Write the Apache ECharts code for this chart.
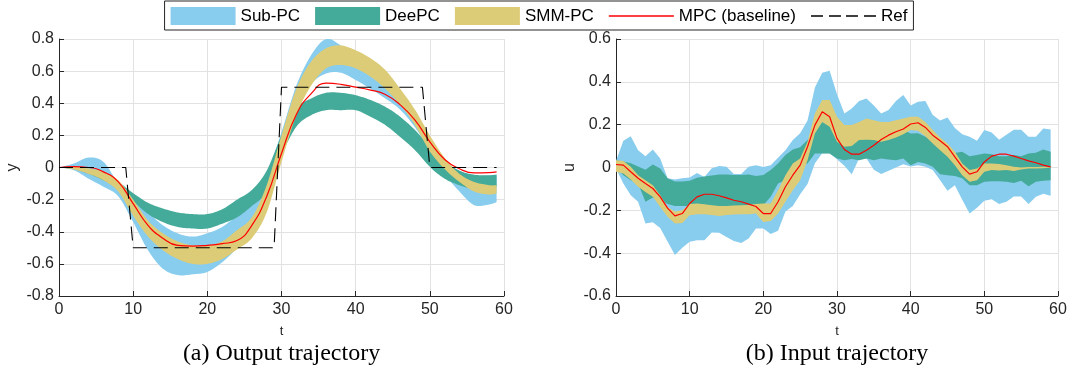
<!DOCTYPE html>
<html>
<head>
<meta charset="utf-8">
<script src="https://cdn.jsdelivr.net/npm/echarts@6/dist/echarts.min.js"></script>
<style>
html,body{margin:0;padding:0;background:#fff;}
#chart{width:1078px;height:378px;}
</style>
</head>
<body>
<div id="chart"></div>
<script>
// ---------- Left plot: output trajectory (y) ----------
const tLeft = [0,2,4,6,8,10,12,14,16,18,20,22,24,26,28,30,32,34,36,38,40,42,44,46,48,50,52,54,56,58,59];
const subUpL = [0,0.025,0.062,0.035,-0.10,-0.20,-0.28,-0.36,-0.41,-0.43,-0.41,-0.37,-0.30,-0.22,-0.05,0.22,0.51,0.70,0.80,0.76,0.69,0.62,0.54,0.44,0.32,0.17,0.04,-0.02,-0.05,-0.05,-0.05];
const subLoL = [0,-0.017,-0.07,-0.12,-0.18,-0.34,-0.515,-0.63,-0.67,-0.665,-0.65,-0.59,-0.50,-0.38,-0.21,0.077,0.37,0.52,0.585,0.59,0.545,0.49,0.43,0.36,0.25,0.108,-0.04,-0.15,-0.235,-0.23,-0.215];
const deeUpL = [0,0.0,-0.02,-0.05,-0.09,-0.16,-0.22,-0.255,-0.28,-0.29,-0.29,-0.26,-0.20,-0.14,-0.02,0.20,0.37,0.43,0.465,0.465,0.45,0.42,0.378,0.316,0.233,0.13,0.04,-0.02,-0.045,-0.048,-0.044];
const deeLoL = [0,-0.01,-0.04,-0.08,-0.13,-0.21,-0.29,-0.34,-0.37,-0.38,-0.38,-0.35,-0.31,-0.24,-0.15,0.077,0.254,0.326,0.357,0.357,0.357,0.316,0.264,0.19,0.108,0.004,-0.07,-0.11,-0.135,-0.13,-0.12];
const smmUpL = [0,0.004,-0.006,-0.027,-0.08,-0.20,-0.33,-0.41,-0.46,-0.485,-0.485,-0.46,-0.39,-0.31,-0.11,0.20,0.49,0.66,0.742,0.76,0.73,0.68,0.607,0.49,0.36,0.20,0.06,-0.04,-0.09,-0.11,-0.11];
const smmLoL = [0,-0.012,-0.04,-0.08,-0.15,-0.30,-0.43,-0.515,-0.57,-0.60,-0.60,-0.57,-0.51,-0.44,-0.28,0.035,0.326,0.51,0.617,0.638,0.617,0.565,0.49,0.39,0.264,0.10,-0.01,-0.09,-0.15,-0.168,-0.162];
const mpcL = [0,0.005,0.0,-0.027,-0.09,-0.225,-0.36,-0.44,-0.485,-0.49,-0.485,-0.474,-0.455,-0.36,-0.18,0.087,0.33,0.46,0.525,0.518,0.50,0.482,0.455,0.39,0.295,0.16,0.05,-0.008,-0.034,-0.032,-0.027];
const refT = [0,9,10,29,30,49,50,59];
const refV = [0,0,-0.5,-0.5,0.5,0.5,0,0];

// ---------- Right plot: input trajectory (u) ----------
const tRight = [0,1,2,3,4,5,6,7,8,9,10,11,12,13,14,15,16,17,18,19,20,21,22,23,24,25,26,27,28,29,30,31,32,33,34,35,36,37,38,39,40,41,42,43,44,45,46,47,48,49,50,51,52,53,54,55,56,57,58,59];
const subUpR = [0.03,0.125,0.146,0.08,0.052,0.084,0.042,-0.05,-0.056,-0.05,-0.047,-0.026,-0.044,-0.003,0.007,0.003,-0.03,-0.03,0.003,0.01,0.002,0.01,0.045,0.08,0.128,0.16,0.22,0.373,0.442,0.452,0.342,0.252,0.276,0.31,0.322,0.29,0.252,0.268,0.311,0.338,0.29,0.307,0.311,0.245,0.22,0.233,0.185,0.155,0.143,0.125,0.175,0.163,0.13,0.153,0.176,0.176,0.143,0.143,0.182,0.178];
const subLoR = [-0.005,-0.075,-0.13,-0.16,-0.262,-0.256,-0.283,-0.345,-0.408,-0.375,-0.347,-0.34,-0.34,-0.303,-0.305,-0.324,-0.343,-0.353,-0.332,-0.285,-0.285,-0.31,-0.295,-0.205,-0.18,-0.125,-0.077,0.02,0.066,0.066,0.038,0.008,-0.032,0.042,0.042,-0.01,-0.03,-0.015,0.0,0.015,0.005,0.01,0.003,-0.012,-0.06,-0.108,-0.083,-0.15,-0.215,-0.188,-0.155,-0.148,-0.171,-0.16,-0.135,-0.135,-0.17,-0.137,-0.122,-0.132];
const deeUpR = [0.034,0.028,0.02,0.005,-0.01,0.014,-0.005,-0.05,-0.065,-0.065,-0.062,-0.048,-0.042,-0.037,-0.033,-0.033,-0.035,-0.035,-0.033,-0.04,-0.035,-0.012,0.019,0.058,0.084,0.094,0.128,0.175,0.213,0.198,0.175,0.151,0.159,0.175,0.178,0.176,0.167,0.167,0.172,0.175,0.159,0.16,0.143,0.128,0.109,0.097,0.068,0.073,0.053,0.058,0.065,0.062,0.053,0.053,0.058,0.053,0.065,0.069,0.084,0.073];
const deeLoR = [0.0,-0.036,-0.06,-0.075,-0.16,-0.14,-0.15,-0.17,-0.18,-0.18,-0.18,-0.18,-0.18,-0.18,-0.18,-0.18,-0.18,-0.18,-0.18,-0.184,-0.176,-0.137,-0.075,-0.06,-0.028,0.011,0.019,0.065,0.065,0.065,0.042,0.034,0.04,0.034,0.042,0.034,0.042,0.037,0.034,0.042,0.011,0.026,0.019,0.003,-0.031,-0.036,-0.04,-0.05,-0.083,-0.083,-0.067,-0.064,-0.064,-0.067,-0.072,-0.062,-0.087,-0.067,-0.062,-0.059];
const smmUpR = [0.034,0.03,0.003,-0.036,-0.06,-0.083,-0.13,-0.184,-0.205,-0.2,-0.17,-0.168,-0.172,-0.176,-0.18,-0.18,-0.178,-0.176,-0.175,-0.171,-0.168,-0.168,-0.106,-0.036,0.019,0.042,0.12,0.252,0.315,0.315,0.237,0.198,0.198,0.213,0.229,0.221,0.213,0.213,0.221,0.229,0.237,0.237,0.213,0.175,0.14,0.112,0.073,0.019,-0.012,-0.005,0.019,0.019,0.016,0.011,0.003,0.0,0.002,0.002,0.003,0.003];
const smmLoR = [-0.02,-0.028,-0.056,-0.09,-0.114,-0.137,-0.184,-0.23,-0.262,-0.259,-0.223,-0.218,-0.218,-0.222,-0.226,-0.222,-0.22,-0.218,-0.218,-0.215,-0.254,-0.25,-0.215,-0.16,-0.106,-0.06,0.034,0.159,0.213,0.19,0.12,0.097,0.1,0.128,0.13,0.128,0.12,0.128,0.14,0.155,0.175,0.172,0.146,0.112,0.081,0.05,0.011,-0.036,-0.067,-0.059,-0.02,-0.012,-0.014,-0.012,-0.016,-0.009,-0.005,-0.005,-0.003,0.0];
const mpcR = [0.014,0.011,-0.02,-0.05,-0.075,-0.098,-0.137,-0.19,-0.226,-0.215,-0.168,-0.137,-0.125,-0.125,-0.132,-0.142,-0.153,-0.16,-0.171,-0.182,-0.215,-0.215,-0.16,-0.09,-0.036,0.011,0.097,0.198,0.26,0.237,0.136,0.084,0.062,0.062,0.081,0.104,0.131,0.151,0.167,0.18,0.203,0.209,0.187,0.151,0.125,0.097,0.05,0.003,-0.031,-0.02,0.026,0.053,0.062,0.062,0.053,0.042,0.031,0.022,0.011,0.003];

// ---------- labels ----------
const names = ['Sub-PC','DeePC','SMM-PC','MPC (baseline)','Ref'];
const colors = {'Sub-PC':'#88CCEE','DeePC':'#44AA99','SMM-PC':'#DDCC77','MPC (baseline)':'#ff0000','Ref':'#000000'};
const captions = ['(a) Output trajectory','(b) Input trajectory'];
const axisNames = [['t','y'],['t','u']];

const pairs = (xs, ys) => xs.map((x,i)=>[x, ys[i]]);

// Catmull-Rom smoothing of already-projected pixel points (drawing only)
function smoothPix(p, steps) {
  const out = [];
  const n = p.length;
  for (let i = 0; i < n - 1; i++) {
    const p0 = p[Math.max(i-1,0)], p1 = p[i], p2 = p[i+1], p3 = p[Math.min(i+2,n-1)];
    const c1 = [p1[0] + (p2[0]-p0[0])/6, p1[1] + (p2[1]-p0[1])/6];
    const c2 = [p2[0] - (p3[0]-p1[0])/6, p2[1] - (p3[1]-p1[1])/6];
    for (let s = 0; s < steps; s++) {
      const u = s/steps, a = 1-u;
      out.push([
        a*a*a*p1[0] + 3*a*a*u*c1[0] + 3*a*u*u*c2[0] + u*u*u*p2[0],
        a*a*a*p1[1] + 3*a*a*u*c1[1] + 3*a*u*u*c2[1] + u*u*u*p2[1]
      ]);
    }
  }
  out.push(p[n-1]);
  return out;
}

function band(name, xs, lo, up, axis, smooth) {
  return {
    name: name, type:'custom', xAxisIndex:axis, yAxisIndex:axis, clip:true, silent:true,
    color: colors[name], itemStyle:{color:colors[name]},
    data: [[xs[0], lo[0]]],
    renderItem: function (params, api) {
      let top = xs.map((x,i)=>api.coord([x, up[i]]));
      let bot = xs.map((x,i)=>api.coord([x, lo[i]]));
      if (smooth) { top = smoothPix(top, 10); bot = smoothPix(bot, 10); }
      const pts = top.concat(bot.slice().reverse());
      return { type:'polygon', shape:{points:pts}, style:{fill:colors[name], stroke:null} };
    }
  };
}

const series = [
  band('Sub-PC', tLeft, subLoL, subUpL, 0, true),
  band('Sub-PC', tRight, subLoR, subUpR, 1, false),
  band('DeePC', tLeft, deeLoL, deeUpL, 0, true),
  band('DeePC', tRight, deeLoR, deeUpR, 1, false),
  band('SMM-PC', tLeft, smmLoL, smmUpL, 0, true),
  band('SMM-PC', tRight, smmLoR, smmUpR, 1, false),
  { name:'MPC (baseline)', type:'line', xAxisIndex:0, yAxisIndex:0, data: pairs(tLeft, mpcL), smooth:true,
    symbol:'none', color:'#ff0000', lineStyle:{color:'#ff0000', width:1.2}, silent:true },
  { name:'MPC (baseline)', type:'line', xAxisIndex:1, yAxisIndex:1, data: pairs(tRight, mpcR),
    symbol:'none', color:'#ff0000', lineStyle:{color:'#ff0000', width:1.2}, silent:true },
  { name:'Ref', type:'line', xAxisIndex:0, yAxisIndex:0, data: pairs(refT, refV),
    symbol:'none', color:'#000', lineStyle:{color:'#000', width:1.1, type:[14,7]}, silent:true }
];

function xAx(i) {
  return { type:'value', gridIndex:i, min:0, max:60, interval:10,
    name: axisNames[i][0], nameLocation:'middle', nameGap:29,
    nameTextStyle:{fontSize:13, color:'#262626'},
    axisLine:{show:true, onZero:false, lineStyle:{color:'#262626', width:1}},
    axisTick:{show:true, inside:true, length:5, lineStyle:{color:'#262626'}},
    axisLabel:{fontSize:16, color:'#262626', margin:6},
    splitLine:{show:true, lineStyle:{color:'#e2e2e2', width:1}} };
}
function yAx(i, lim) {
  return { type:'value', gridIndex:i, min:-lim, max:lim, interval:0.2,
    name: axisNames[i][1], nameLocation:'middle', nameGap:38, nameRotate:90,
    nameTextStyle:{fontSize:16, color:'#262626'},
    axisLine:{show:true, onZero:false, lineStyle:{color:'#262626', width:1}},
    axisTick:{show:true, inside:true, length:5, lineStyle:{color:'#262626'}},
    axisLabel:{fontSize:16, color:'#262626', margin:5},
    splitLine:{show:true, lineStyle:{color:'#e2e2e2', width:1}} };
}

const lineIcon = 'path://M0,0H65V1.4H0Z';
const dashIcon = 'path://M0,0H12V1.4H0Z M18,0H30V1.4H18Z M35,0H47V1.4H35Z M53,0H65V1.4H53Z';
const capFont = '24px "Liberation Serif", "Times New Roman", serif';

const option = {
  animation:false,
  backgroundColor:'#fff',
  textStyle:{fontFamily:'"Liberation Sans", Arial, sans-serif'},
  grid:[
    {left:59, top:39, width:445, height:257},
    {left:616, top:39, width:442, height:257}
  ],
  xAxis:[xAx(0), xAx(1)],
  yAxis:[yAx(0, 0.8), yAx(1, 0.6)],
  legend:{
    top:1, left:'center',
    data:[
      {name:names[0], icon:'rect', itemStyle:{color:colors[names[0]]}},
      {name:names[1], icon:'rect', itemStyle:{color:colors[names[1]]}},
      {name:names[2], icon:'rect', itemStyle:{color:colors[names[2]]}},
      {name:names[3], icon:lineIcon, itemStyle:{color:colors[names[3]]}},
      {name:names[4], icon:dashIcon, itemStyle:{color:colors[names[4]]}}
    ],
    itemWidth:65, itemHeight:18, itemGap:15, padding:[6,6,5,6],
    borderColor:'#262626', borderWidth:1, backgroundColor:'#fff',
    textStyle:{fontSize:17, color:'#000'}, selectedMode:false
  },
  graphic:[
    {type:'text', x:281.5, y:354, style:{text:captions[0], font:capFont, fill:'#000', textAlign:'center', textVerticalAlign:'middle'}},
    {type:'text', x:837, y:354, style:{text:captions[1], font:capFont, fill:'#000', textAlign:'center', textVerticalAlign:'middle'}}
  ],
  series: series
};

const chart = echarts.init(document.getElementById('chart'), null, {renderer:'canvas'});
chart.setOption(option);
</script>
</body>
</html>
